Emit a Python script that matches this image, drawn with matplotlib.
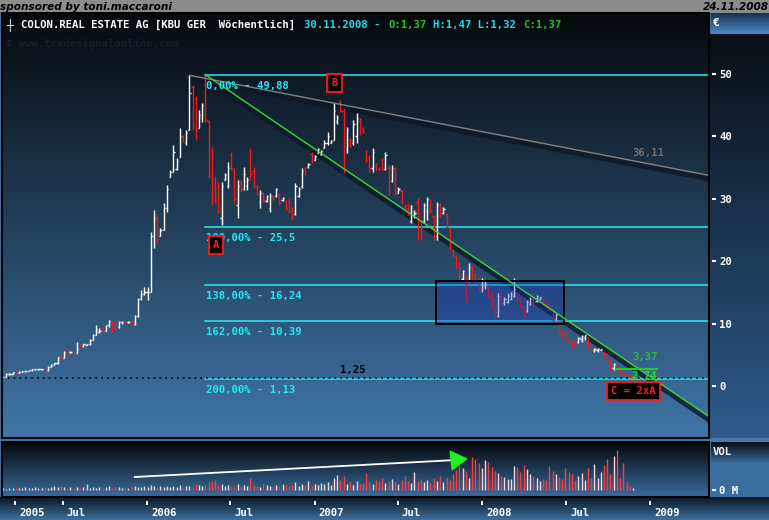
import numpy as np
import pandas as pd
import matplotlib
matplotlib.use("Agg")
import matplotlib.pyplot as plt
import matplotlib.dates as mdates
from matplotlib.collections import LineCollection
from matplotlib.patches import Rectangle
from matplotlib.transforms import ScaledTranslation

plt.rcParams['font.family'] = ['DejaVu Sans Mono', 'DejaVu Sans']
plt.rcParams['font.weight'] = 'bold'

# ---------------- data (weekly OHLC, Colonia Real Estate) ----------------
start_week = "2005-02-21"
opens = [1.45,1.50,1.85,1.95,2.20,2.10,2.30,2.35,2.40,2.50,
         2.65,2.70,2.70,2.70,2.50,3.10,3.40,3.65,4.85,4.50,
         5.80,5.40,5.50,5.30,6.60,6.40,6.60,6.70,7.40,8.20,
         8.60,9.30,8.80,9.70,10.30,10.20,9.40,10.20,10.30,10.20,
         10.30,9.90,11.20,13.90,14.80,15.00,15.10,24.00,27.00,24.00,
         25.00,28.50,33.50,34.30,34.80,36.70,40.00,39.00,41.00,48.00,
         46.00,41.30,43.00,49.50,42.50,37.50,32.00,32.50,27.00,33.00,
         32.00,37.00,34.50,29.00,32.50,31.50,32.00,37.50,34.50,32.00,
         29.50,31.00,29.60,28.50,30.50,30.40,30.80,29.80,29.60,29.50,
         28.50,27.50,30.50,32.00,35.00,35.10,37.20,36.30,37.40,37.20,
         38.20,39.00,39.00,39.50,42.50,45.50,44.00,38.00,39.50,39.00,
         40.00,42.50,41.30,37.50,36.50,35.00,35.50,35.00,36.30,34.80,
         35.00,32.80,35.00,31.00,31.20,28.90,29.00,26.50,27.20,29.50,
         26.30,26.50,28.00,29.80,27.20,24.00,29.20,27.80,27.50,25.20,
         21.80,20.80,19.50,17.20,17.50,17.00,19.20,17.80,17.20,15.50,
         16.00,16.00,14.70,12.50,11.20,14.70,13.30,13.50,14.00,14.50,
         14.80,14.00,12.60,12.00,13.20,14.50,13.60,13.90,14.00,13.40,
         12.90,12.30,10.80,10.30,8.90,8.50,7.60,7.20,7.00,7.00,
         7.50,7.80,7.80,6.50,5.70,5.80,5.80,5.40,5.00,4.10,
         2.90,3.00,2.50,2.20,2.00,1.70,1.37]
highs = [1.50,2.05,2.05,2.25,2.25,2.35,2.40,2.45,2.55,2.70,
         2.80,2.75,2.78,2.72,3.15,3.45,3.70,4.70,4.95,5.60,
         5.90,5.55,5.55,7.10,6.70,6.80,6.80,7.50,8.30,9.80,
         9.30,9.40,9.80,10.60,10.40,10.30,10.40,10.40,10.40,10.35,
         10.35,11.40,14.10,15.40,15.90,15.90,24.70,28.20,27.40,25.30,
         29.30,32.20,34.60,38.60,36.50,41.30,40.20,41.00,49.80,48.20,
         46.40,44.20,45.40,49.88,42.60,38.30,33.50,32.70,32.70,34.10,
         35.90,37.50,34.90,33.00,33.00,35.10,33.50,38.10,35.10,32.20,
         31.40,31.10,30.60,30.90,30.60,31.70,30.90,30.30,29.80,30.10,
         28.70,32.50,31.90,34.90,35.10,35.70,37.50,37.00,38.10,37.80,
         39.40,40.70,39.40,45.30,43.50,45.80,44.50,41.50,39.70,42.60,
         43.70,42.90,41.50,37.80,37.00,38.10,35.70,35.10,36.50,37.50,
         35.40,35.40,35.10,31.90,31.40,29.00,29.30,29.00,28.20,30.10,
         26.60,29.30,30.30,30.00,27.40,29.50,29.30,28.70,27.70,25.30,
         21.90,21.00,19.90,18.60,17.80,19.70,19.40,18.10,17.50,17.30,
         17.00,16.20,14.90,12.70,14.90,14.90,14.30,14.90,15.10,17.30,
         14.90,14.10,12.70,13.80,14.30,14.90,14.60,14.30,14.10,13.50,
         13.00,12.50,11.70,10.40,9.00,8.60,7.70,7.40,7.10,7.90,
         8.20,8.20,7.90,6.60,6.10,6.10,6.00,5.50,5.30,4.20,
         3.70,3.10,2.60,2.30,2.10,1.80,1.47]
lows = [1.40,1.48,1.80,1.90,2.05,2.05,2.25,2.30,2.35,2.45,
        2.60,2.60,2.62,2.45,2.48,3.05,3.35,3.60,4.40,4.45,
        5.20,5.30,5.25,5.25,6.30,6.30,6.50,6.65,7.35,8.20,
        8.50,8.60,8.75,9.50,8.70,9.00,9.35,10.00,10.05,10.05,
        9.70,9.80,11.10,13.80,14.60,13.80,15.00,22.10,22.90,24.00,
        25.00,27.90,33.50,34.30,34.60,36.70,39.10,38.60,41.00,41.00,
        39.40,41.30,42.30,42.30,33.30,29.00,29.30,27.70,25.80,33.00,
        31.70,34.60,29.30,26.90,31.10,31.40,31.40,33.00,31.70,30.60,
        28.50,29.50,29.50,27.90,29.80,30.30,29.00,29.70,28.20,27.70,
        26.80,27.40,30.30,31.70,33.80,35.00,35.70,36.20,37.30,37.00,
        38.10,38.60,38.90,39.40,42.00,43.90,34.10,37.30,38.30,38.60,
        38.90,40.20,40.50,35.90,34.30,34.30,34.60,34.60,34.60,34.60,
        30.60,32.70,30.60,30.90,29.30,28.20,27.40,26.10,26.90,23.40,
        23.40,26.10,26.60,27.80,23.40,23.40,27.10,27.50,25.30,21.80,
        20.70,18.90,17.00,17.00,13.50,16.70,17.00,16.70,15.10,15.10,
        15.50,14.10,12.20,10.90,11.10,13.00,13.00,13.30,13.80,14.30,
        13.80,12.50,11.10,11.90,13.00,12.70,13.50,13.80,13.00,12.70,
        12.20,10.30,10.60,8.50,7.90,7.40,6.90,6.10,6.30,6.90,
        7.10,7.40,6.10,5.80,5.50,5.50,5.70,4.70,3.90,2.60,
        2.60,2.30,2.10,1.90,1.60,1.30,1.32]
closes = [1.45,2.00,1.95,2.20,2.10,2.30,2.35,2.40,2.50,2.65,
          2.70,2.70,2.72,2.50,3.10,3.40,3.65,4.60,4.50,5.50,
          5.40,5.45,5.30,5.90,6.40,6.70,6.70,7.40,8.20,9.00,
          8.80,8.70,9.70,10.40,9.10,9.40,10.20,10.30,10.20,10.25,
          9.90,11.20,13.90,14.80,15.00,15.10,24.00,27.00,23.50,25.00,
          28.50,31.50,34.30,37.50,36.00,40.00,39.20,40.50,47.00,42.00,
          40.00,43.50,45.00,42.60,34.00,31.00,29.60,28.00,32.00,33.80,
          35.00,35.00,30.00,32.00,31.50,34.00,33.00,34.00,32.00,30.80,
          31.00,29.80,30.40,30.50,30.00,31.50,29.30,30.20,28.50,28.00,
          27.00,32.00,31.50,34.50,34.00,35.60,36.00,36.90,38.00,37.60,
          39.00,40.00,39.30,44.00,43.00,44.00,39.00,41.00,38.50,42.00,
          43.00,41.00,40.70,36.00,35.00,37.50,34.80,34.70,34.80,37.00,
          31.50,35.00,31.00,31.60,29.50,28.30,27.60,28.80,27.80,26.50,
          24.00,29.00,30.00,28.00,25.50,29.00,27.80,28.40,25.60,22.50,
          21.00,19.20,17.50,18.40,14.50,19.00,17.50,17.00,15.50,17.00,
          16.50,14.50,12.50,11.20,14.50,13.30,14.00,14.50,14.80,15.50,
          14.00,12.80,11.50,13.50,14.00,13.00,14.40,14.20,13.20,12.80,
          12.30,10.80,11.40,8.70,8.10,7.60,7.00,6.50,6.50,7.70,
          8.00,8.10,6.40,6.00,6.00,6.00,5.90,4.90,4.20,2.90,
          3.50,2.50,2.20,2.00,1.70,1.40,1.37]
volumes = [2,1,2,2,3,2,2,3,2,2,
           3,2,2,3,2,3,4,3,4,3,
           2,3,2,3,2,3,6,2,3,2,
           3,2,3,4,2,3,3,2,3,2,
           3,4,3,3,4,3,5,4,3,4,
           3,4,3,4,3,5,3,4,4,3,
           6,5,4,5,8,9,10,5,6,4,
           5,4,3,6,4,5,4,12,5,4,
           3,6,5,4,3,5,4,6,5,4,
           5,8,4,6,5,9,4,6,5,7,
           6,8,5,12,15,10,14,6,8,5,
           9,6,7,17,8,6,10,9,12,7,
           9,11,8,6,10,14,9,7,18,9,
           11,8,10,7,12,9,14,8,13,10,
           16,20,24,22,19,12,33,31,27,22,
           30,28,23,19,17,14,13,11,11,24,
           23,18,25,21,16,14,12,9,11,10,
           24,19,16,13,11,22,18,16,9,14,
           17,10,22,12,26,12,18,25,31,16,
           34,40,12,27,8,4,2]

fib_levels = [49.88, 25.5, 16.24, 10.39, 1.13]
fib_labels = ["0,00% - 49,88", "100,00% - 25,5", "138,00% - 16,24",
              "162,00% - 10,39", "200,00% - 1,13"]
fib_start_bar = 63
support_level = 1.25
green_trend = [(63, 49.88), (196, 3.37)]   # (bar index, price)
gray_trend = [(58, 49.80), (196, 36.11)]
zone = (134.7, 174.5, 9.9, 16.8)           # bar from, bar to, price low, price high
target_level = 2.74
price_ticks = [0, 10, 20, 30, 40, 50]
date_ticks = ["2005-03-19", "2005-07-01", "2006-01-01", "2006-07-01", "2007-01-01",
              "2007-07-01", "2008-01-01", "2008-07-01", "2009-01-01"]
date_tick_labels = ["2005", "Jul", "2006", "Jul", "2007", "Jul", "2008", "Jul", "2009"]

# ---------------- figure ----------------
W, H = 769, 520
fig = plt.figure(figsize=(W / 100, H / 100), dpi=100)
fig.patch.set_facecolor('#3f74a6')

bg = fig.add_axes([0, 0, 1, 1])
bg.set_zorder(-10)
bg.axis('off')


def vgrad(x0, x1, y0, y1, c0, c1):
    t = np.linspace(0, 1, 256)[:, None, None]
    a = np.array(c0, float) / 255
    b = np.array(c1, float) / 255
    img = a * (1 - t) + b * t
    bg.imshow(img, extent=(x0, x1, y1, y0), aspect='auto', interpolation='bilinear', zorder=1)


def block(x0, x1, y0, y1, c):
    bg.add_patch(Rectangle((x0, y0), x1 - x0, y1 - y0, color=c, lw=0, zorder=2))


block(0, W, 0, 13, '#8c8c8c')
vgrad(2, 709, 13, 438, (5, 9, 13), (64, 118, 168))
vgrad(709, W, 34, 438, (8, 15, 22), (46, 92, 140))
vgrad(711, W, 13, 34, (22, 48, 80), (78, 138, 196))
block(0, W, 438, 442, '#4479ab')
vgrad(2, 709, 442, 497, (4, 7, 10), (58, 108, 158))
vgrad(711, W, 442, 462, (6, 12, 18), (54, 100, 148))
block(711, W, 462, 497, '#3a6c9e')
vgrad(0, W, 497, H, (10, 22, 34), (62, 112, 162))
bg.set_xlim(0, W)
bg.set_ylim(H, 0)

n = len(closes)
dates = pd.date_range(start_week, periods=n, freq='7D')
xs = mdates.date2num(dates.to_pydatetime())
x0num = xs[0]


def bx(i):
    return x0num + 7.0 * np.asarray(i, dtype=float)


xlim = (bx(-0.31), bx(219.66))
px_day = 7.0 / 3.214  # days per pixel

# ---------------- price panel ----------------
axp = fig.add_axes([2 / W, 1 - 438 / H, 707 / W, 425 / H])
axp.set_facecolor('none')
axp.set_xlim(*xlim)
axp.set_ylim(-8.33, 59.78)
for s in axp.spines.values():
    s.set_visible(False)
axp.spines['right'].set_position(('outward', 2.2))
axp.add_patch(Rectangle((0, 0), 1, 1, transform=axp.transAxes, fill=False,
                        ec='black', lw=1.5, clip_on=False, zorder=10))
axp.set_xticks([])
axp.yaxis.tick_right()
axp.set_yticks(price_ticks)
axp.set_yticklabels([f"{v}" for v in price_ticks])
axp.tick_params(axis='y', colors='white', length=3, width=1.5, pad=2, labelsize=7.7)

# Fibonacci levels
xe = bx(219.66)
for lv, lab in zip(fib_levels, fib_labels):
    axp.plot([bx(fib_start_bar), xe], [lv, lv], color='#22eef2', lw=1.1, zorder=2)
    axp.annotate(lab, xy=(bx(fib_start_bar), lv), xytext=(1, -11), textcoords='offset pixels',
                 color='#22e8f0', fontsize=7.7, ha='left', va='center', zorder=6)

# support dotted line
axp.plot([xlim[0], xe], [support_level, support_level], color='black', lw=1.2,
         ls=(0, (1, 2.5)), zorder=2)
axp.annotate("1,25", xy=(bx(104.9), support_level), xytext=(0, 8), textcoords='offset pixels',
             color='black', fontsize=7.7, ha='left', va='center', zorder=6)

shadow = axp.transData + ScaledTranslation(0, -3.5 / 100, fig.dpi_scale_trans)


def trend(pts, color):
    (i0, v0), (i1, v1) = pts
    slope = (v1 - v0) / (i1 - i0)
    ie = 220.0
    ve = v1 + slope * (ie - i1)
    axp.plot([bx(i0), bx(ie)], [v0, ve], color='#0c1826', lw=3.6, alpha=0.8,
             transform=shadow, zorder=1, solid_capstyle='butt')
    axp.plot([bx(i0), bx(ie)], [v0, ve], color=color, lw=1.0, zorder=5)


trend(gray_trend, '#808080')
trend(green_trend, '#3fd03f')

# OHLC bars
tk = 1.2 * px_day
segs, cols = [], []
for x, o, h, l, c in zip(xs, opens, highs, lows, closes):
    col = '#ffffff' if c >= o else '#ff1414'
    segs += [[(x, l), (x, h)], [(x - tk, o), (x, o)], [(x, c), (x + tk, c)]]
    cols += [col] * 3
axp.add_collection(LineCollection(segs, colors=cols, linewidths=1.0, zorder=3))

# blue zone
z0, z1, zl, zh = zone
axp.add_patch(Rectangle((bx(z0), zl), bx(z1) - bx(z0), zh - zl, facecolor='#1632b8',
                        alpha=0.32, edgecolor='none', zorder=4))
axp.add_patch(Rectangle((bx(z0), zl), bx(z1) - bx(z0), zh - zl, facecolor='none',
                        edgecolor='black', lw=1.4, zorder=4))

# trend values
axp.annotate("36,11", xy=(bx(195.7), gray_trend[1][1]), xytext=(0, 8), textcoords='offset pixels',
             color='#6e6e6e', fontsize=7.7, ha='left', va='center', zorder=6)
axp.annotate("3,37", xy=(bx(195.7), green_trend[1][1]), xytext=(0, 8), textcoords='offset pixels',
             color='#35b835', fontsize=7.7, ha='left', va='center', zorder=6)
axp.plot([bx(191), bx(203.5)], [target_level, target_level], color='#22cc22', lw=1.6, zorder=6)

# pattern boxes
bstyle = dict(boxstyle='square,pad=0.38', fc='black', ec='#ff1a1a', lw=1.3)
axp.text(bx(66.3), 22.6, "A", color='#ff1a1a', fontsize=7.7, ha='center', va='center',
         bbox=bstyle, zorder=8)
axp.text(bx(103.1), 48.6, "B", color='#ff1a1a', fontsize=7.7, ha='center', va='center',
         bbox=bstyle, zorder=8)
axp.text(bx(196.2), -0.8, "C = 2xA", color='#ff1a1a', fontsize=7.7, ha='center', va='center',
         bbox=bstyle, zorder=8)
axp.annotate("2,74", xy=(bx(195.4), target_level), xytext=(0, -7), textcoords='offset pixels',
             color='#22dd22', fontsize=7.7, ha='left', va='center', zorder=9)

# ---------------- volume panel ----------------
axv = fig.add_axes([2 / W, 1 - 497 / H, 707 / W, 55 / H])
axv.set_facecolor('none')
axv.set_xlim(*xlim)
axv.set_ylim(-7, 48)
for s in axv.spines.values():
    s.set_visible(False)
axv.spines['right'].set_position(('outward', 2.2))
axv.spines['bottom'].set_position(('outward', 2.9))
axv.add_patch(Rectangle((0, 0), 1, 1, transform=axv.transAxes, fill=False,
                        ec='black', lw=1.5, clip_on=False, zorder=10))
vsegs, vcols = [], []
for x, o, c, v in zip(xs, opens, closes, volumes):
    vsegs.append([(x, 0), (x, v)])
    vcols.append('#f4d4d4' if c >= o else '#ff3c3c')
axv.add_collection(LineCollection(vsegs, colors=vcols, linewidths=1.0, zorder=3))

axv.plot([bx(41), bx(141)], [13, 30], color='white', lw=1.3, zorder=4)
axv.annotate("", xy=(bx(145.5), 31.5), xytext=(bx(139.5), 29.5),
             arrowprops=dict(arrowstyle='-|>,head_length=0.9,head_width=0.55', color='#22ee22',
                             lw=1.2, mutation_scale=12), zorder=5)

axv.yaxis.tick_right()
axv.set_yticks([0])
axv.set_yticklabels(["0 M"])
axv.tick_params(axis='y', colors='white', length=3, width=1.5, pad=2, labelsize=7.7)
tick_nums = mdates.date2num(pd.to_datetime(date_ticks).to_pydatetime())
axv.set_xticks(tick_nums)
axv.tick_params(axis='x', colors='white', direction='out', length=3, width=1.3, labelbottom=False)
for tx, tl in zip(tick_nums, date_tick_labels):
    axv.annotate(tl, xy=(tx, 0), xycoords=('data', 'axes fraction'), xytext=(4, -16),
                 textcoords='offset pixels', color='white', fontsize=7.7, ha='left', va='center',
                 annotation_clip=False)

# ---------------- header texts ----------------


def ftext(px, py, s, **kw):
    fig.text(px / W, 1 - py / H, s, va='center', **kw)


ftext(0, 6.5, "sponsored by toni.maccaroni", color='black', fontsize=7.6, style='italic',
      family='DejaVu Sans')
ftext(769, 6.5, "24.11.2008", color='black', fontsize=7.6, style='italic',
      family='DejaVu Sans', ha='right')
ftext(6, 25, "\u253c", color='white', fontsize=8)
cw = 6.44
ftext(21, 25, "COLON.REAL ESTATE AG [KBU GER  Wöchentlich]", color='white', fontsize=7.7)
ftext(21 + 44 * cw, 25, "30.11.2008 -", color='#22dcea', fontsize=7.7)
ftext(21 + 57 * cw, 25, "O:1,37", color='#22c422', fontsize=7.7)
ftext(21 + 64 * cw, 25, "H:1,47 L:1,32", color='#22dcea', fontsize=7.7)
ftext(21 + 78 * cw, 25, "C:1,37", color='#22c422', fontsize=7.7)
ftext(6, 44, "\u00a9 www.tradesignalonline.com", color='#161f2a', fontsize=7.7)
ftext(713, 23, "\u20ac", color='white', fontsize=8)
ftext(713, 452, "VOL", color='white', fontsize=7.7)

fig.savefig("out.png", dpi=100, facecolor=fig.get_facecolor())
